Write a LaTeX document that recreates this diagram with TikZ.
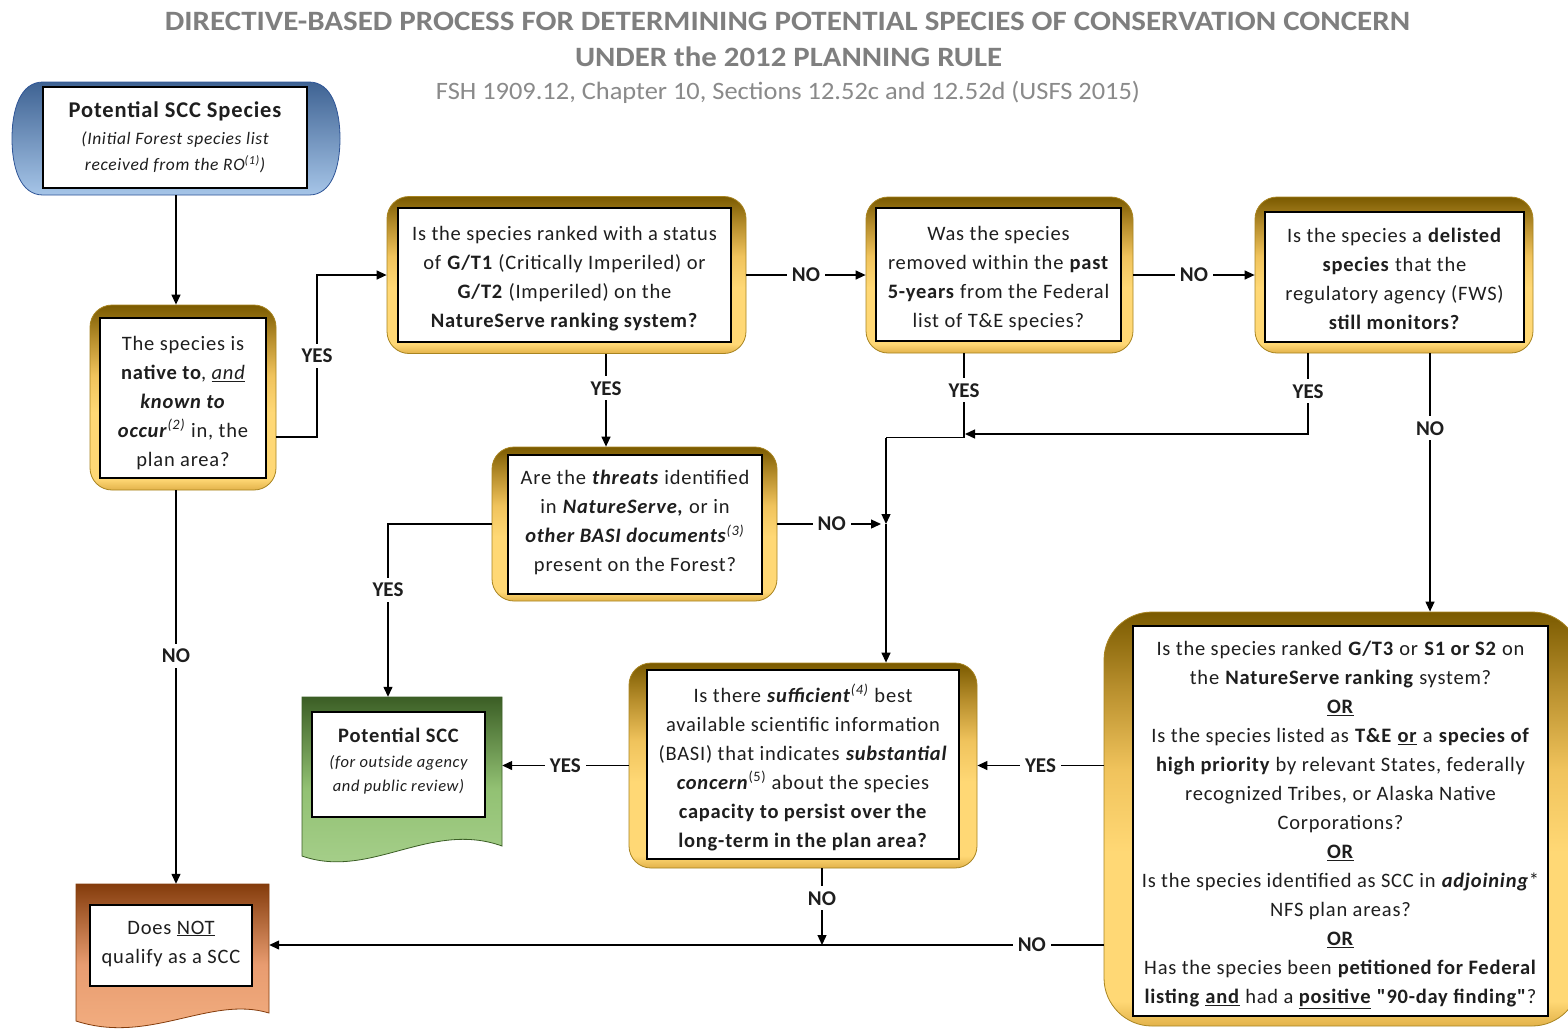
\documentclass[tikz,border=0pt]{standalone}
\usepackage{fontspec}
\usepackage{graphicx}
\setmainfont{Carlito}
\newfontfamily\spaced[LetterSpace=3.8]{Carlito}
\usetikzlibrary{arrows.meta,calc}
\definecolor{gEdge}{HTML}{E2B24A}
\definecolor{gLight}{HTML}{FFD875}
\definecolor{gMid}{HTML}{F0C35C}
\definecolor{gMid2}{HTML}{B78E2C}
\definecolor{gDark}{HTML}{7A5A00}
\definecolor{gBorder}{HTML}{A88420}
\definecolor{bDark}{HTML}{3F6393}
\definecolor{bLight}{HTML}{A6C5E8}
\definecolor{bBorder}{HTML}{2F5597}
\definecolor{grDark}{HTML}{3B5E25}
\definecolor{grMid}{HTML}{92C173}
\definecolor{grLight}{HTML}{A9D18E}
\definecolor{oDark}{HTML}{843C0C}
\definecolor{oMid}{HTML}{E89C70}
\definecolor{oLight}{HTML}{F4B183}
\definecolor{ttl}{HTML}{7F7F7F}
\definecolor{subt}{HTML}{8A8A8A}
\definecolor{txt}{HTML}{1E1E1E}
\pgfdeclareverticalshading{goldsh}{100bp}{color(0bp)=(gEdge); color(25bp)=(gEdge); color(28bp)=(gLight); color(46bp)=(gLight); color(56bp)=(gMid); color(66bp)=(gMid2); color(75bp)=(gDark); color(100bp)=(gDark)}
\newcommand\myBody{\spaced\fontsize{20.5}{29}\selectfont}
\newcommand\myLab{\fontsize{21}{24}\selectfont\bfseries}
\newcommand\qq{{\char34}}
\tikzset{
  goldbox/.style={shading=goldsh, draw=gBorder, line width=0.8pt, rounded corners=22pt, inner sep=0pt},
  inbox/.style={draw=black, line width=1.6pt, fill=white, inner sep=0pt},
  tx/.style={align=center, inner sep=0pt, font=\myBody, text=txt},
  lab/.style={fill=white, font=\myLab, inner sep=5pt, text=txt},
  arr/.style={draw=black, line width=1.3pt, -{Triangle[length=10pt,width=9pt]}},
  ln/.style={draw=black, line width=1.3pt},
  ghost/.style={draw=none, inner sep=0pt}
}
\begin{document}
\begin{tikzpicture}[x=1pt,y=-1pt]
\useasboundingbox (0,0) rectangle (1568,1029);
\clip (0,0) rectangle (1568,1029);
\fill[white] (0,0) rectangle (1568,1029);

% titles
\node[text=ttl, font=\fontsize{28}{30}\selectfont\bfseries, inner sep=0pt] (title1) at (787.5,21) {\resizebox{1245pt}{\height}{DIRECTIVE-BASED PROCESS FOR DETERMINING POTENTIAL SPECIES OF CONSERVATION CONCERN}};
\node[text=ttl, font=\fontsize{28}{30}\selectfont\bfseries, inner sep=0pt] (title2) at (788.5,57) {\resizebox{427pt}{\height}{UNDER the 2012 PLANNING RULE}};
\node[text=subt, font=\fontsize{25}{27}\selectfont, inner sep=0pt] (title3) at (788,92) {\resizebox{704pt}{\height}{FSH 1909.12, Chapter 10, Sections 12.52c and 12.52d (USFS 2015)}};

% start terminator
\path[draw=bBorder, line width=0.8pt, top color=bDark, bottom color=bLight]
  (43,82) -- (309,82) .. controls (332,82) and (340,110) .. (340,138.5)
  .. controls (340,167) and (332,195) .. (309,195) -- (43,195)
  .. controls (20,195) and (12,167) .. (12,138.5)
  .. controls (12,110) and (20,82) .. (43,82) -- cycle;
\node[ghost, minimum width=328pt, minimum height=113pt] (start) at (176,138.5) {};
\node[inbox, minimum width=264pt, minimum height=101pt] (startb) at (175,137.5) {};
\node[tx, font=\spaced\fontsize{17.5}{26.5}\selectfont] (startt) at ([yshift=0pt]startb.center)
  {{\fontsize{22.5}{26.5}\selectfont\bfseries Potential SCC Species}\\ \itshape (Initial Forest species list\\ \itshape received from the RO\textsuperscript{(1)})};

% q2
\node[goldbox, minimum width=186pt, minimum height=185pt] (q2) at (183,397.5) {};
\node[inbox, minimum width=166pt, minimum height=160pt] (q2b) at (183,398) {};
\node[tx] (q2t) at ([yshift=-5pt]q2b.center)
  {The species is\\ \textbf{native to}, \textit{\underline{and}}\\ \textbf{\textit{known to}}\\ \textbf{\textit{occur}}\textsuperscript{\textit{(2)}} in, the\\ plan area?};

% q3
\node[goldbox, minimum width=359pt, minimum height=157pt] (q3) at (566.5,275) {};
\node[inbox, minimum width=333pt, minimum height=134pt] (q3b) at (564.5,275) {};
\node[tx] (q3t) at ([yshift=-4pt]q3b.center)
  {Is the species ranked with a status\\ of \textbf{G/T1} (Critically Imperiled) or\\ \textbf{G/T2} (Imperiled) on the\\ \textbf{NatureServe ranking system?}};

% q4
\node[goldbox, minimum width=267pt, minimum height=156pt] (q4) at (999.5,275) {};
\node[inbox, minimum width=245pt, minimum height=133pt] (q4b) at (998.5,274.5) {};
\node[tx] (q4t) at ([yshift=-4pt]q4b.center)
  {Was the species\\ removed within the \textbf{past}\\ \textbf{5-years} from the Federal\\ list of T\&E species?};

% q5
\node[goldbox, minimum width=278pt, minimum height=156pt] (q5) at (1394,275) {};
\node[inbox, minimum width=259pt, minimum height=130pt] (q5b) at (1394.5,277) {};
\node[tx] (q5t) at ([yshift=-2pt]q5b.center)
  {Is the species a \textbf{delisted}\\ \textbf{species} that the\\ regulatory agency (FWS)\\ \textbf{still monitors?}};

% q6
\node[goldbox, minimum width=285pt, minimum height=154pt] (q6) at (634.5,524) {};
\node[inbox, minimum width=254pt, minimum height=139pt] (q6b) at (635,524.5) {};
\node[tx] (q6t) at ([yshift=2pt]q6b.center)
  {Are the \textbf{\textit{threats}} identified\\ in \textbf{\textit{NatureServe,}} or in\\ \textbf{\textit{other BASI documents}}\textsuperscript{\textit{(3)}}\\ present on the Forest?};

% q7
\node[goldbox, minimum width=348pt, minimum height=205pt] (q7) at (803,765.5) {};
\node[inbox, minimum width=312pt, minimum height=189pt] (q7b) at (803,764.5) {};
\node[tx] (q7t) at ([yshift=-3pt]q7b.center)
  {Is there \textbf{\textit{sufficient}}\textsuperscript{\textit{(4)}} best\\ available scientific information\\ (BASI) that indicates \textbf{\textit{substantial}}\\ \textbf{\textit{concern}}\textsuperscript{(5)} about the species\\ \textbf{capacity to persist over the}\\ \textbf{long-term in the plan area?}};

% q8
\node[goldbox, rounded corners=48pt, minimum width=476pt, minimum height=414pt] (q8) at (1342,819) {};
\node[inbox, minimum width=415pt, minimum height=390pt] (q8b) at (1340.5,821) {};
\node[tx] (q8t) at ([yshift=-4pt]q8b.center)
  {Is the species ranked \textbf{G/T3} or \textbf{S1 or S2} on\\
   the \textbf{NatureServe ranking} system?\\
   \underline{\textbf{OR}}\\
   Is the species listed as \textbf{T\&E} \underline{\textbf{or}} a \textbf{species of}\\
   \textbf{high priority} by relevant States, federally\\
   recognized Tribes, or Alaska Native\\
   Corporations?\\
   \underline{\textbf{OR}}\\
   Is the species identified as SCC in \textbf{\textit{adjoining}}*\\
   NFS plan areas?\\
   \underline{\textbf{OR}}\\
   Has the species been \textbf{petitioned for Federal}\\
   \textbf{listing} \underline{\textbf{and}} had a \underline{\textbf{positive}} \textbf{\qq 90-day finding\qq}?};

% q9 green document
\path[draw=grDark, line width=0.8pt, top color=grDark, bottom color=grLight, middle color=grMid]
  (302,697) -- (502,697) -- (502,846) .. controls (430,820) and (370,880) .. (302,856) -- cycle;
\node[ghost, minimum width=200pt, minimum height=146pt] (q9) at (402,770) {};
\node[inbox, minimum width=173pt, minimum height=105pt] (q9b) at (398.5,764.5) {};
\node[tx, font=\spaced\fontsize{16.5}{24}\selectfont] (q9t) at ([yshift=3pt]q9b.center)
  {{\fontsize{20.5}{24}\selectfont\bfseries Potential SCC}\\[1pt] \itshape (for outside agency\\ \itshape and public review)};

% q10 orange document
\path[draw=oDark, line width=0.8pt, top color=oDark, bottom color=oLight, middle color=oMid]
  (76,884) -- (269,884) -- (269,1013) .. controls (210,995) and (150,1045) .. (76,1021) -- cycle;
\node[ghost, minimum width=193pt, minimum height=122pt] (q10) at (172.5,945) {};
\node[inbox, minimum width=162pt, minimum height=81pt] (q10b) at (171,945.5) {};
\node[tx] (q10t) at ([yshift=2pt]q10b.center)
  {Does \underline{NOT}\\ qualify as a SCC};

% connectors
\draw[arr] (start.south) -- (start.south |- q2.north);

\coordinate (e1) at (317,437);
\draw[arr] ([yshift=-39.5pt]q2.east) -- (e1) -- node[lab]{YES} (e1 |- q3.west) -- (q3.west);

\draw[arr] (q3.east) -- node[lab]{NO} (q4.west);
\draw[arr] (q4.east) -- node[lab]{NO} (q5.west);

\coordinate (c5a) at ([xshift=39.5pt]q3.south);
\draw[arr] (c5a) -- node[lab, pos=0.37]{YES} (c5a |- q6.north);

\coordinate (c6a) at ([xshift=-35.5pt]q4.south);
\coordinate (j1) at (886,437.5);
\coordinate (j2) at (886,524);
\draw[ln] (c6a) -- node[lab, pos=0.44]{YES} (c6a |- j1) -- (j1);
\draw[arr] (j1) -- (j2);
\draw[arr] (j2) -- (j2 |- q7.north);

\coordinate (c7a) at ([xshift=-86pt]q5.south);
\coordinate (j3) at (965,434);
\draw[arr] (c7a) -- node[lab, pos=0.47]{YES} (c7a |- j3) -- (j3);

\coordinate (c8a) at ([xshift=36pt]q5.south);
\draw[arr] (c8a) -- node[lab, pos=0.29]{NO} (c8a |- q8.north);

\draw[arr, shorten >=5pt] (q6.east) -- node[lab]{NO} (q6.east -| j2);

\draw[arr] (q8.west |- q7.east) -- node[lab]{YES} (q7.east);
\draw[arr] (q7.west) -- node[lab]{YES} (q7.west -| q9.east);

\coordinate (c12b) at ([xshift=-14pt]q9.north);
\draw[arr] (q6.west) -| node[lab, pos=0.69]{YES} (c12b);

\coordinate (c13a) at ([xshift=-7pt]q2.south);
\draw[arr] (c13a) -- node[lab, pos=0.42]{NO} (c13a |- q10.north);

\draw[arr] (q8.west |- q10.east) -- node[lab, pos=0.086]{NO} (q10.east);

\coordinate (c15a) at ([xshift=19pt]q7.south);
\draw[arr] (c15a) -- node[lab, pos=0.39]{NO} (c15a |- q10.east);
\end{tikzpicture}
\end{document}
